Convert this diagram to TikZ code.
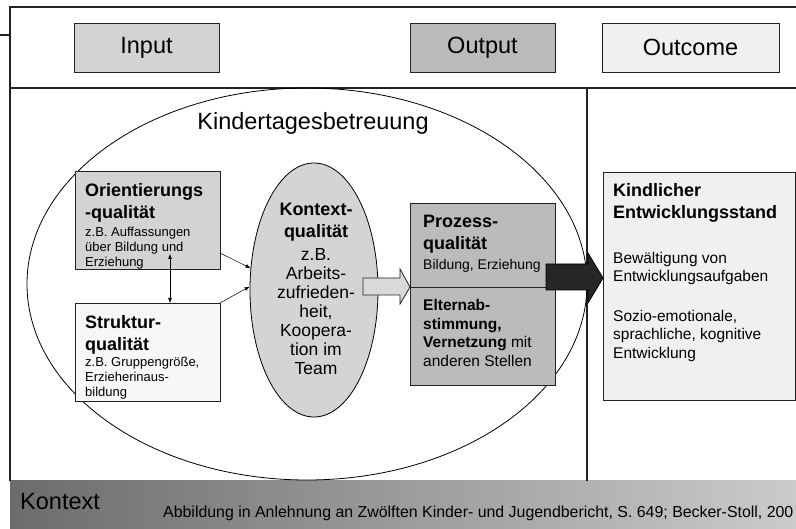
\documentclass[tikz,border=0pt]{standalone}
\usepackage{fontspec}
\setmainfont{Liberation Sans}
\usetikzlibrary{arrows.meta,shapes.geometric}
\definecolor{inGray}{HTML}{D3D3D3}
\definecolor{outGray}{HTML}{BBBBBB}
\definecolor{paleGray}{HTML}{F0F0F0}
\definecolor{strGray}{HTML}{F7F7F7}
\definecolor{konGray}{HTML}{D4D4D4}
\definecolor{arrLight}{HTML}{D9D9D9}
\definecolor{arrDark}{HTML}{262626}
\definecolor{bandL}{HTML}{6C6C6C}
\definecolor{bandR}{HTML}{CBCBCB}
\definecolor{lineCol}{HTML}{222222}
\begin{document}
\begin{tikzpicture}[x=1pt,y=-1pt,
  frame/.style={draw=lineCol,line width=1.2pt},
  box/.style={draw=lineCol,line width=0.9pt,anchor=north west,inner sep=0pt,outer sep=0pt},
  txt/.style={inner sep=0pt,align=left,anchor=north west},
  ctxt/.style={inner sep=0pt,align=center,anchor=north},
  big/.style={font=\fontsize{23.5}{28}\selectfont},
  head/.style={font=\fontsize{18}{22}\selectfont\bfseries},
  small/.style={font=\fontsize{13}{15}\selectfont},
  thinarrow/.style={line width=0.5pt,-{Latex[length=5pt,width=4pt]}},
  dblarrow/.style={line width=0.6pt,{Latex[length=5pt,width=4pt]}-{Latex[length=5pt,width=4pt]}}
]
\useasboundingbox (0,0) rectangle (796,529);
\fill[white] (0,0) rectangle (796,529);

% context band along the bottom
\shade[left color=bandL,right color=bandR] (10,481) rectangle (796,529);
\node[txt,anchor=west,big] (ctx) at (20,502) {Kontext};
\node[txt,anchor=west,font=\fontsize{15.9}{18}\selectfont] (cite) at (163,513)
  {Abbildung in Anlehnung an Zwölften Kinder- und Jugendbericht, S. 649; Becker-Stoll, 200};

% frame
\draw[frame] (0,35) -- (10,35);
\draw[frame] (796,7) -- (10,7) -- (10,481);
\draw[frame] (10,88) -- (796,88);
\draw[frame] (587,88) -- (587,481);

% header boxes
\node[box,fill=inGray,minimum width=145pt,minimum height=49pt,big] (inp) at (74,23) {Input};
\node[box,fill=outGray,minimum width=145pt,minimum height=49pt,big] (outp) at (410,23) {Output};
\node[box,fill=paleGray,minimum width=177pt,minimum height=49pt,big] (outc) at (602,23) {Outcome};

% day-care ellipse
\node[draw=black,line width=0.8pt,ellipse,minimum width=560pt,minimum height=392pt,inner sep=0pt] (kita) at (307,284) {};
\node[big,inner sep=0pt] (kitaL) at (313,123) {Kindertagesbetreuung};

% orientation quality
\node[box,fill=inGray,minimum width=145pt,minimum height=98pt] (ori) at (75,171) {};
\node[txt,head] (oriH) at (85,183) {Orientierungs\\-qualität};
\node[txt,small] (oriB) at (85,227) {z.B. Auffassungen\\über Bildung und\\Erziehung};

% structure quality
\node[box,fill=strGray,minimum width=145pt,minimum height=98pt] (stru) at (75,303) {};
\node[txt,head] (struH) at (85,315) {Struktur-\\qualität};
\node[txt,small] (struB) at (85,357) {z.B. Gruppengröße,\\Erzieherinaus-\\bildung};

\draw[dblarrow] ([xshift=95pt,yshift=15pt]ori.south west) -- ([xshift=95pt]stru.north west);

% context quality
\node[draw=black,line width=0.8pt,fill=konGray,ellipse,minimum width=128pt,minimum height=254pt,inner sep=0pt] (kon) at (314,290) {};
\node[ctxt,head] (konH) at (316,203) {Kontext-\\qualität};
\node[ctxt,font=\fontsize{17.5}{19}\selectfont] (konB) at (316,248)
  {z.B.\\Arbeits-\\zufrieden-\\heit,\\Koopera-\\tion im\\Team};

\draw[thinarrow] ([yshift=16pt]ori.south east) -- (kon.161);
\draw[thinarrow] (stru.north east) -- (kon.177);

% process quality
\node[box,fill=outGray,minimum width=145pt,minimum height=182pt] (proz) at (410,203) {};
\draw[line width=0.8pt,draw=lineCol] (proz.west |- 0,287) -- (proz.east |- 0,287);
\node[txt,head] (prozH) at (423,215) {Prozess-\\qualität};
\node[txt,font=\fontsize{14}{17}\selectfont] (prozB) at (423,259) {Bildung, Erziehung};
\node[txt,font=\fontsize{15.5}{18.7}\selectfont] (eltern) at (423,299)
  {\textbf{Elternab-}\\\textbf{stimmung,}\\\textbf{Vernetzung} mit\\anderen Stellen};

% child development
\node[box,fill=paleGray,minimum width=192pt,minimum height=228pt] (kind) at (603,172) {};
\node[txt,head] (kindH) at (613,183) {Kindlicher\\Entwicklungsstand};
\node[txt,font=\fontsize{15.5}{18.5}\selectfont] (kindB) at (613,252) {Bewältigung von\\Entwicklungsaufgaben};
\node[txt,font=\fontsize{15.5}{18.5}\selectfont] (kindC) at (613,310) {Sozio-emotionale,\\sprachliche, kognitive\\Entwicklung};

% block arrows
\filldraw[fill=arrLight,draw=lineCol,line width=0.8pt]
  (363,278) -- (400,278) -- (400,269) -- (proz.west |- 0,287) -- (400,304) -- (400,295) -- (363,295) -- cycle;
\filldraw[fill=arrDark,draw=black,line width=0.8pt]
  (546,264) -- (588,264) -- (588,253) -- (kind.west |- 0,278) -- (588,303) -- (588,290) -- (546,290) -- cycle;
\end{tikzpicture}
\end{document}
